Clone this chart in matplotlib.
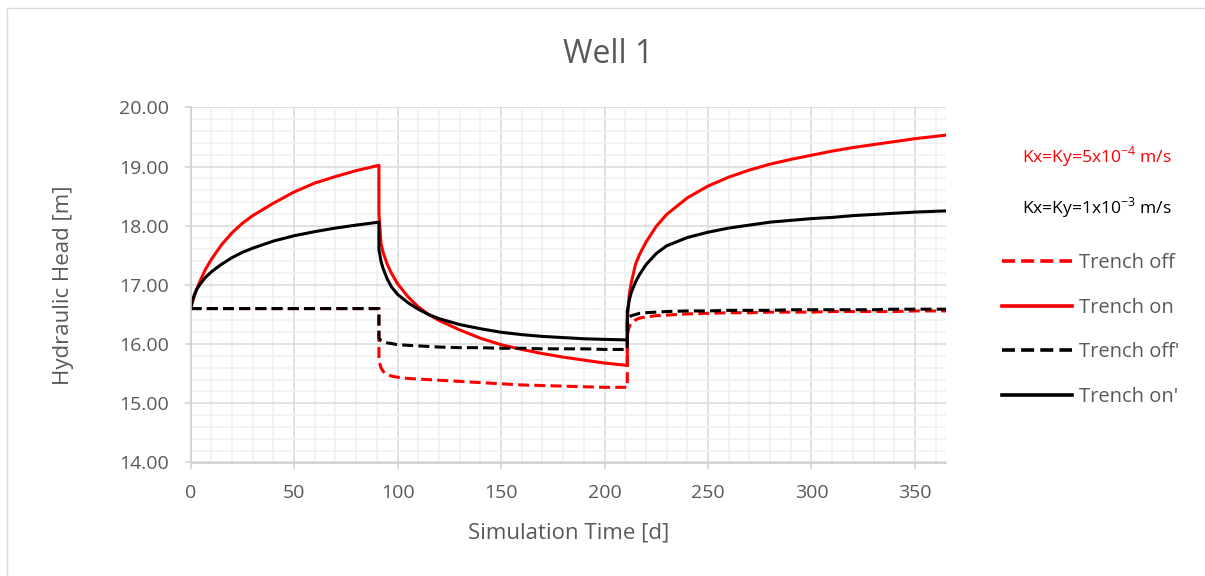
import matplotlib
matplotlib.use('Agg')
import matplotlib.pyplot as plt
from matplotlib.patches import Rectangle
from matplotlib.ticker import MultipleLocator

plt.rcParams['font.family'] = ['Open Sans', 'DejaVu Sans']
plt.rcParams['mathtext.fontset'] = 'custom'
plt.rcParams['mathtext.rm'] = 'Open Sans'

# simulation times [d]; 91 and 211 appear twice for the vertical jumps
time_d = [0, 1, 2, 3, 5, 7, 10, 15, 20, 25, 30, 40, 50, 60, 70, 80, 91,
          91, 92, 93, 95, 97, 100, 105, 110, 115, 120, 130, 140, 150, 160, 170, 180, 190, 200, 211,
          211, 212, 213, 215, 217, 220, 225, 230, 240, 250, 260, 270, 280, 290, 300, 310, 320, 330, 340, 350, 365]

trench_off = [16.60, 16.60, 16.60, 16.60, 16.60, 16.60, 16.60, 16.60, 16.60, 16.60, 16.60, 16.60, 16.60, 16.60, 16.60, 16.60, 16.60,
              15.72, 15.60, 15.54, 15.49, 15.46, 15.44, 15.42, 15.41, 15.40, 15.39, 15.37, 15.35, 15.33, 15.31, 15.30, 15.29, 15.28, 15.27, 15.27,
              16.15, 16.30, 16.36, 16.41, 16.44, 16.46, 16.48, 16.49, 16.51, 16.52, 16.53, 16.53, 16.54, 16.54, 16.54, 16.55, 16.55, 16.55, 16.55, 16.56, 16.56]

trench_on = [16.60, 16.72, 16.83, 16.93, 17.10, 17.25, 17.43, 17.68, 17.88, 18.04, 18.17, 18.38, 18.57, 18.72, 18.83, 18.93, 19.02,
             18.20, 17.70, 17.55, 17.35, 17.20, 17.02, 16.80, 16.63, 16.50, 16.40, 16.24, 16.10, 15.99, 15.91, 15.84, 15.78, 15.73, 15.68, 15.64,
             16.40, 16.85, 17.05, 17.35, 17.52, 17.72, 17.99, 18.19, 18.47, 18.67, 18.82, 18.94, 19.04, 19.12, 19.19, 19.26, 19.32, 19.37, 19.42, 19.47, 19.53]

trench_off2 = [16.60, 16.60, 16.60, 16.60, 16.60, 16.60, 16.60, 16.60, 16.60, 16.60, 16.60, 16.60, 16.60, 16.60, 16.60, 16.60, 16.60,
               16.10, 16.06, 16.04, 16.02, 16.01, 15.99, 15.98, 15.97, 15.96, 15.95, 15.94, 15.94, 15.93, 15.93, 15.92, 15.92, 15.92, 15.91, 15.91,
               16.43, 16.46, 16.48, 16.50, 16.52, 16.53, 16.54, 16.55, 16.56, 16.56, 16.57, 16.57, 16.57, 16.58, 16.58, 16.58, 16.58, 16.58, 16.59, 16.59, 16.59]

trench_on2 = [16.60, 16.75, 16.85, 16.93, 17.03, 17.12, 17.22, 17.35, 17.46, 17.55, 17.62, 17.74, 17.83, 17.90, 17.96, 18.01, 18.06,
              17.60, 17.40, 17.28, 17.10, 16.97, 16.84, 16.70, 16.59, 16.50, 16.43, 16.33, 16.26, 16.20, 16.16, 16.13, 16.11, 16.09, 16.08, 16.07,
              16.55, 16.75, 16.88, 17.05, 17.18, 17.34, 17.53, 17.66, 17.80, 17.89, 17.96, 18.01, 18.06, 18.09, 18.12, 18.14, 18.17, 18.19, 18.21, 18.23, 18.25]

series_labels = ['Trench off', 'Trench on', "Trench off'", "Trench on'"]

GRAY = '#595959'
W, H = 1205, 576

fig = plt.figure(figsize=(W / 100, H / 100), dpi=100)
ax = fig.add_axes([190.6 / W, 1 - 462.5 / H, (946 - 190.6) / W, (462.5 - 107.3) / H])

lw = 2.2
dash = (3.6, 1.7)
ax.plot(time_d, trench_off, color='#ff0000', lw=lw, dashes=dash, label=series_labels[0])
ax.plot(time_d, trench_on, color='#ff0000', lw=lw, label=series_labels[1])
ax.plot(time_d, trench_off2, color='black', lw=lw, dashes=dash, label=series_labels[2])
ax.plot(time_d, trench_on2, color='black', lw=lw, label=series_labels[3])

ax.set_xlim(0, 365)
ax.set_ylim(14, 20)
ax.xaxis.set_major_locator(MultipleLocator(50))
ax.xaxis.set_minor_locator(MultipleLocator(10))
ax.yaxis.set_major_locator(MultipleLocator(1))
ax.yaxis.set_minor_locator(MultipleLocator(0.2))
ax.yaxis.set_major_formatter(lambda v, p: f'{v:.2f}')

ax.grid(which='major', color='#d9d9d9', lw=1.1)
ax.grid(which='minor', color='#f0f0f0', lw=1.1)
ax.set_axisbelow(True)
for s in ['top', 'right']:
    ax.spines[s].set_visible(False)
for s in ['left', 'bottom']:
    ax.spines[s].set_color('#d0d0d0')
    ax.spines[s].set_linewidth(1.2)

ax.tick_params(which='major', length=4.3, width=1.1, color='#d0d0d0', labelcolor=GRAY, labelsize=14)
ax.tick_params(axis='y', pad=11)
ax.tick_params(axis='x', pad=11)
ax.tick_params(which='minor', length=0)

ax.set_xlabel('Simulation Time [d]', fontsize=16, color=GRAY, labelpad=15)
ax.set_ylabel('Hydraulic Head [m]', fontsize=16, color=GRAY, labelpad=33)

fig.text(608 / W, 1 - 63 / H, 'Well 1', fontsize=23, color=GRAY, ha='center', va='baseline')

leg = fig.legend(loc='upper left', bbox_to_anchor=(1002 / W, 1 - 253 / H), frameon=False,
                 fontsize=14.5, labelcolor=GRAY, handlelength=3.5, handletextpad=0.3,
                 labelspacing=1.22, borderpad=0, borderaxespad=0)
for h in leg.get_lines():
    h.set_linewidth(2.6)

fig.text(1022 / W, 1 - 162 / H, r'Kx=Ky=5x10$^{\mathregular{-4}}$ m/s', fontsize=12.6,
         color='#ff0000', ha='left', va='baseline')
fig.text(1022 / W, 1 - 213.5 / H, r'Kx=Ky=1x10$^{\mathregular{-3}}$ m/s', fontsize=12.6,
         color='black', ha='left', va='baseline')

# light chart border (only top/left visible in the crop)
fig.patches.append(Rectangle((7 / W, -0.1), 1.2, 1 - 8 / H + 0.1, transform=fig.transFigure,
                             fill=False, edgecolor='#d9d9d9', lw=1))

fig.savefig('out.png', dpi=100)
